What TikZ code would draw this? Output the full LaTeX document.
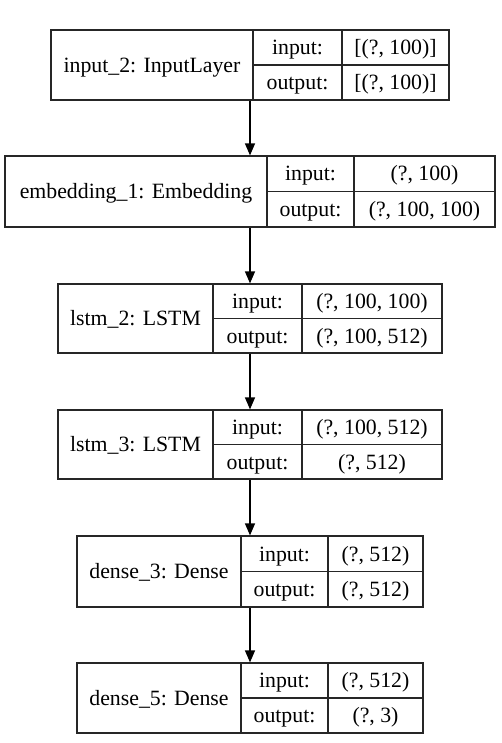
\documentclass[tikz,border=0pt]{standalone}
\usepackage{fontspec}
\setmainfont{Liberation Serif}
\usetikzlibrary{arrows.meta}
\newcommand\cellat[6]{%
  \node[cell, minimum width={(#3-#2)*1pt}, minimum height={(#5-#4)*1pt}] (#1) at ({(#2+#3)/2},{(#4+#5)/2}) {#6};}
\newcommand\kerasbox[9]{% name, L, D1, D2, R, T, B, label, input value
  \cellat{#1}{#2}{#5}{#6}{#7}{}%
  \cellat{#1-lab}{#2}{#3}{#6}{#7}{#8}%
  \cellat{#1-in}{#3}{#4}{#6}{(#6+#7)/2}{input:}%
  \cellat{#1-out}{#3}{#4}{(#6+#7)/2}{#7}{output:}%
  \cellat{#1-inv}{#4}{#5}{#6}{(#6+#7)/2}{#9}%
}
\newcommand\outval[6]{% name, D2, R, T, B, text
  \cellat{#1-outv}{#2}{#3}{(#4+#5)/2}{#5}{#6}}
\begin{document}
\begin{tikzpicture}[x=1pt,y=-1pt,
  cell/.style={draw=black!85, line width=1.2pt, inner sep=0pt, text height=14.5pt, text depth=0pt,
    font=\fontsize{21.8}{25}\selectfont, align=center},
  arr/.style={line width=1.3pt, -{Triangle[length=12pt,width=10pt]}}]
\useasboundingbox (0,0) rectangle (501,743);
\fill[white] (0,0) rectangle (501,743);
\kerasbox{L1}{51}{253}{342}{449}{30}{100}{input\_2: InputLayer}{[(?, 100)]}
\outval{L1}{342}{449}{30}{100}{[(?, 100)]}
\kerasbox{L2}{5}{267}{354}{495}{156}{227}{embedding\_1: Embedding}{(?, 100)}
\outval{L2}{354}{495}{156}{227}{(?, 100, 100)}
\kerasbox{L3}{58}{213}{302}{442}{284}{353}{lstm\_2: LSTM}{(?, 100, 100)}
\outval{L3}{302}{442}{284}{353}{(?, 100, 512)}
\kerasbox{L4}{58}{213}{302}{442}{410}{479}{lstm\_3: LSTM}{(?, 100, 512)}
\outval{L4}{302}{442}{410}{479}{(?, 512)}
\kerasbox{L5}{77}{241}{328}{423}{536}{607}{dense\_3: Dense}{(?, 512)}
\outval{L5}{328}{423}{536}{607}{(?, 512)}
\kerasbox{L6}{77}{241}{328}{423}{663}{733}{dense\_5: Dense}{(?, 512)}
\outval{L6}{328}{423}{663}{733}{(?, 3)}
\draw[arr] (L1.south) -- (L2.north);
\draw[arr] (L2.south) -- (L3.north);
\draw[arr] (L3.south) -- (L4.north);
\draw[arr] (L4.south) -- (L5.north);
\draw[arr] (L5.south) -- (L6.north);
\end{tikzpicture}
\end{document}
